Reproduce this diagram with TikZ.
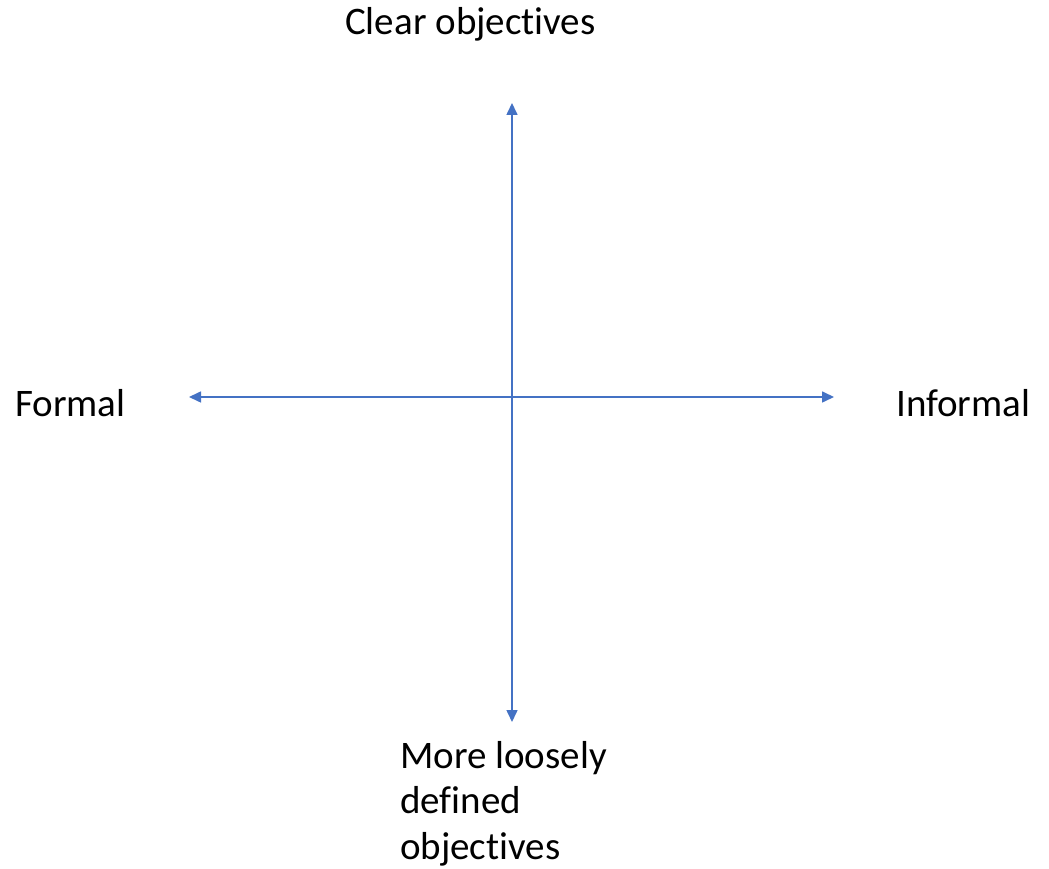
\documentclass[tikz,border=0pt]{standalone}
\usepackage{fontspec}
\setmainfont[Ligatures=NoCommon]{Carlito}
\usetikzlibrary{arrows.meta,positioning}
\definecolor{axisblue}{HTML}{4472C4}
\tikzset{
	axis/.style={draw=axisblue, line width=1.6pt,
		arrows={Triangle[length=12pt,width=11pt]-Triangle[length=12pt,width=11pt]}},
	pole/.style={font=\fontsize{39}{45.5}\selectfont, inner sep=0pt, align=left}
}

\begin{document}
\begin{tikzpicture}[x=1pt, y=1pt]
   \useasboundingbox (0,0) rectangle (1049,868);
   % axis ends
   \coordinate (top)    at (512,765);
   \coordinate (bottom) at (512,146);
   \coordinate (left)   at (189,471);
   \coordinate (right)  at (834,471);
   \node[pole, anchor=base west] (clear)  at (345,833) {Clear objectives};
   \node[pole, anchor=base west] (formal) at (15,451)  {Formal};
   \node[pole, anchor=base west] (inform) at (896,451) {Informal};
   \node[pole, anchor=north west] (loose) at (400,127)
      {More loosely\\defined\\objectives};
   \draw[axis] (bottom) -- (top);
   \draw[axis] (left) -- (right);
\end{tikzpicture}
\end{document}
